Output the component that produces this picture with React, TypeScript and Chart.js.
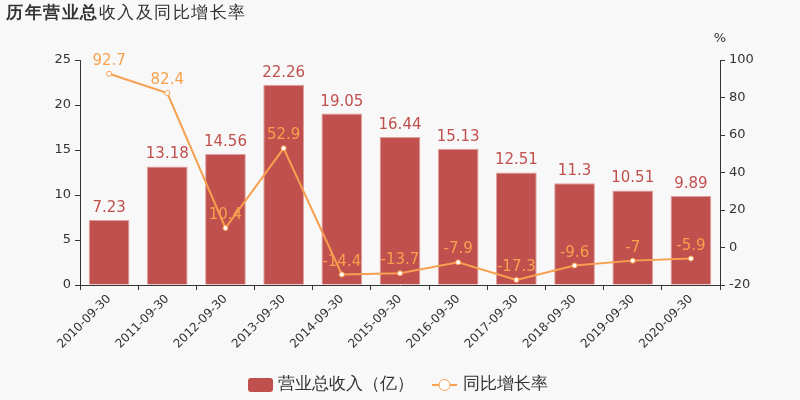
import React, { useEffect, useRef } from "react";
import { Chart, registerables } from "chart.js";

Chart.register(...registerables);

const categories = ["2010-09-30","2011-09-30","2012-09-30","2013-09-30","2014-09-30","2015-09-30","2016-09-30","2017-09-30","2018-09-30","2019-09-30","2020-09-30"];
const revenue = [7.23, 13.18, 14.56, 22.26, 19.05, 16.44, 15.13, 12.51, 11.3, 10.51, 9.89];
const growth = [92.7, 82.4, 10.4, 52.9, -14.4, -13.7, -7.9, -17.3, -9.6, -7, -5.9];
const leftTicks = [0, 5, 10, 15, 20, 25];
const rightTicks = [-20, 0, 20, 40, 60, 80, 100];

const BAR = "#c0504d";
const LINE = "#f7a04f";
const TXT = "#333";
const FONT = "'DejaVu Sans', sans-serif";

const decor = {
  id: "decor",
  afterDatasetsDraw(chart: any) {
    const ctx = chart.ctx;
    ctx.save();
    ctx.font = `15px ${FONT}`;
    ctx.textAlign = "center";
    ctx.textBaseline = "alphabetic";
    const m0 = chart.getDatasetMeta(0);
    m0.data.forEach((el: any, i: number) => {
      ctx.fillStyle = BAR;
      ctx.fillText(String(revenue[i]), el.x, el.y - 8);
    });
    const m1 = chart.getDatasetMeta(1);
    m1.data.forEach((el: any, i: number) => {
      ctx.fillStyle = LINE;
      ctx.fillText(String(growth[i]), el.x, el.y - 9);
    });
    ctx.restore();
  },
  afterDraw(chart: any) {
    const ctx = chart.ctx;
    ctx.save();
    // title
    ctx.fillStyle = TXT;
    ctx.textBaseline = "middle";
    ctx.textAlign = "left";
    (ctx as any).letterSpacing = "1.5px";
    ctx.font = `bold 17px ${FONT}`;
    const p1 = "历年营业总";
    ctx.fillText(p1, 6, 14);
    const w1 = ctx.measureText(p1).width;
    ctx.font = `17px ${FONT}`;
    ctx.fillText("收入及同比增长率", 6 + w1, 14);
    (ctx as any).letterSpacing = "0px";
    // % label
    ctx.font = `13px ${FONT}`;
    ctx.textAlign = "center";
    ctx.fillText("%", chart.scales.y1.left, 39);
    // legend
    const ly = 385;
    ctx.fillStyle = BAR;
    ctx.beginPath();
    (ctx as any).roundRect(248, ly - 7, 25, 14, 3);
    ctx.fill();
    ctx.fillStyle = TXT;
    ctx.font = `17px ${FONT}`;
    ctx.textAlign = "left";
    ctx.fillText("营业总收入（亿）", 278, ly);
    ctx.strokeStyle = LINE;
    ctx.lineWidth = 2;
    ctx.beginPath();
    ctx.moveTo(432, ly);
    ctx.lineTo(457, ly);
    ctx.stroke();
    ctx.beginPath();
    ctx.arc(444.5, ly, 5.5, 0, Math.PI * 2);
    ctx.fillStyle = "#fff";
    ctx.fill();
    ctx.lineWidth = 1;
    ctx.stroke();
    ctx.fillStyle = TXT;
    ctx.fillText("同比增长率", 463, ly);
    ctx.restore();
  },
};

const bg = {
  id: "bg",
  beforeDraw(chart: any) {
    const ctx = chart.ctx;
    ctx.save();
    ctx.fillStyle = "#f8f8f8";
    ctx.fillRect(0, 0, chart.width, chart.height);
    ctx.restore();
  },
};

export default function App() {
  const ref = useRef<HTMLCanvasElement>(null);
  useEffect(() => {
    document.body.style.margin = "0";
    const chart = new Chart(ref.current!, {
      type: "bar",
      data: {
        labels: categories,
        datasets: [
          {
            type: "bar",
            label: "营业总收入（亿）",
            data: revenue,
            backgroundColor: BAR,
            borderColor: "#e0a0a0",
            borderWidth: { left: 1, right: 1, top: 1, bottom: 0 },
            barPercentage: 0.7,
            categoryPercentage: 1,
            yAxisID: "y",
            order: 2,
          },
          {
            type: "line",
            label: "同比增长率",
            data: growth,
            borderColor: LINE,
            borderWidth: 2,
            pointRadius: 2.5,
            pointBackgroundColor: "#fff",
            pointBorderColor: LINE,
            pointBorderWidth: 1,
            tension: 0,
            yAxisID: "y1",
            order: 1,
          },
        ],
      },
      options: {
        responsive: false,
        animation: false,
        layout: { padding: { top: 60, left: 0, right: 0, bottom: 0 } },
        plugins: { legend: { display: false }, tooltip: { enabled: false } },
        scales: {
          x: {
            grid: { drawOnChartArea: false, drawTicks: true, tickLength: 5, color: TXT, offset: true },
            border: { display: true, color: TXT, width: 1 },
            ticks: { color: TXT, font: { size: 12, family: FONT }, maxRotation: 45, minRotation: 45, autoSkip: false, padding: 2 },
            afterFit: (s: any) => { s.height = 115; },
          },
          y: {
            position: "left",
            min: 0,
            max: 25,
            afterBuildTicks: (s: any) => { s.ticks = leftTicks.map((v) => ({ value: v })); },
            grid: { drawOnChartArea: false, drawTicks: true, tickLength: 5, color: TXT },
            border: { display: true, color: TXT, width: 1 },
            ticks: { color: TXT, font: { size: 13, family: FONT }, padding: 4 },
            afterFit: (s: any) => { s.width = 80; },
          },
          y1: {
            position: "right",
            min: -20,
            max: 100,
            afterBuildTicks: (s: any) => { s.ticks = rightTicks.map((v) => ({ value: v })); },
            grid: { drawOnChartArea: false, drawTicks: true, tickLength: 5, color: TXT },
            border: { display: true, color: TXT, width: 1 },
            ticks: { color: TXT, font: { size: 13, family: FONT }, padding: 4 },
            afterFit: (s: any) => { s.width = 80; },
          },
        },
      },
      plugins: [bg, decor],
    });
    return () => chart.destroy();
  }, []);
  return (
    <div style={{ position: "absolute", left: 0, top: 0, width: 800, height: 400 }}>
      <canvas ref={ref} width={800} height={400} style={{ display: "block" }} />
    </div>
  );
}
